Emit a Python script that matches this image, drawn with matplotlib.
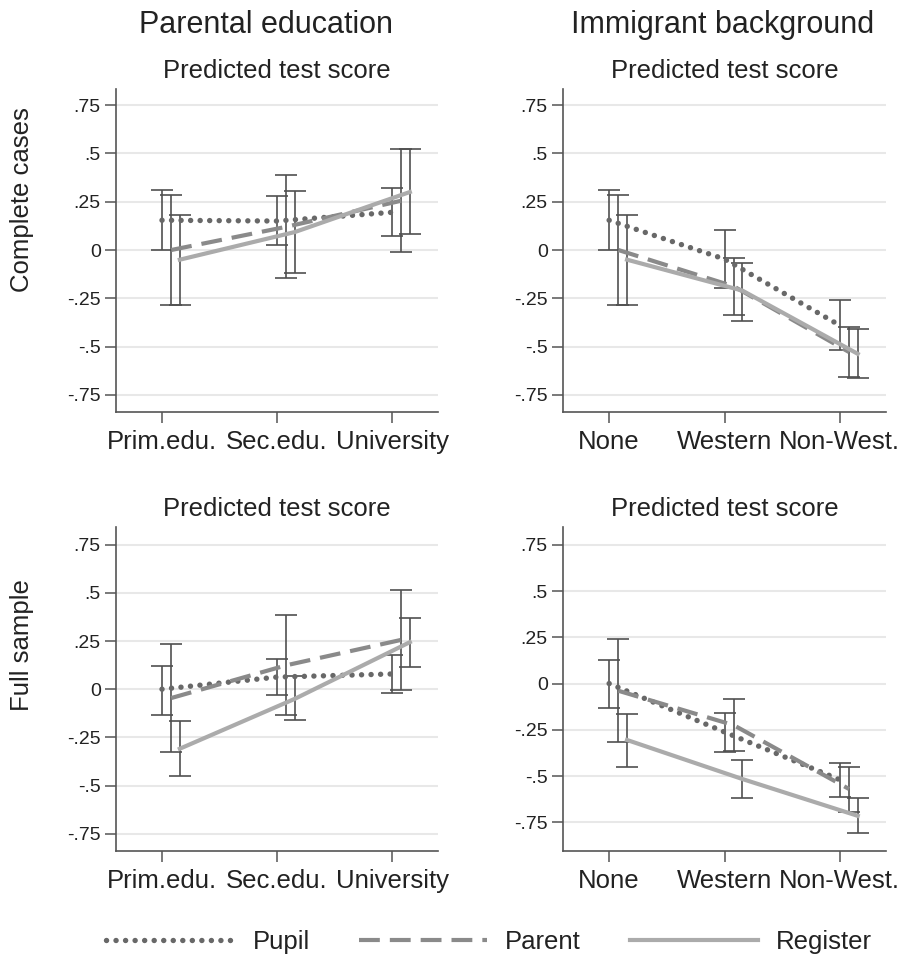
import matplotlib
matplotlib.use('Agg')
import matplotlib.pyplot as plt
import numpy as np

plt.rcParams['font.family'] = ['Liberation Sans', 'DejaVu Sans']

# Categories
edu_cats = ["Prim.edu.", "Sec.edu.", "University"]
imm_cats = ["None", "Western", "Non-West."]
series_names = ["Pupil", "Parent", "Register"]

# Complete cases, parental education (estimate, lower, upper)
cc_edu_pupil = [0.154, 0.15, 0.195]
cc_edu_pupil_lo = [0.0, 0.024, 0.074]
cc_edu_pupil_hi = [0.313, 0.279, 0.322]
cc_edu_parent = [0.0, 0.12, 0.255]
cc_edu_parent_lo = [-0.282, -0.147, -0.012]
cc_edu_parent_hi = [0.284, 0.386, 0.522]
cc_edu_register = [-0.05, 0.093, 0.30]
cc_edu_register_lo = [-0.282, -0.118, 0.081]
cc_edu_register_hi = [0.182, 0.304, 0.522]

# Complete cases, immigrant background
cc_imm_pupil = [0.154, -0.047, -0.39]
cc_imm_pupil_lo = [0.0, -0.199, -0.519]
cc_imm_pupil_hi = [0.313, 0.105, -0.261]
cc_imm_parent = [0.0, -0.188, -0.528]
cc_imm_parent_lo = [-0.282, -0.336, -0.656]
cc_imm_parent_hi = [0.284, -0.04, -0.40]
cc_imm_register = [-0.05, -0.21, -0.537]
cc_imm_register_lo = [-0.282, -0.365, -0.664]
cc_imm_register_hi = [0.182, -0.069, -0.41]

# Full sample, parental education
fs_edu_pupil = [0.0, 0.063, 0.079]
fs_edu_pupil_lo = [-0.136, -0.03, -0.02]
fs_edu_pupil_hi = [0.122, 0.155, 0.177]
fs_edu_parent = [-0.046, 0.124, 0.256]
fs_edu_parent_lo = [-0.325, -0.136, -0.005]
fs_edu_parent_hi = [0.233, 0.385, 0.517]
fs_edu_register = [-0.309, -0.05, 0.244]
fs_edu_register_lo = [-0.452, -0.16, 0.117]
fs_edu_register_hi = [-0.165, 0.071, 0.371]

# Full sample, immigrant background
fs_imm_pupil = [0.0, -0.262, -0.52]
fs_imm_pupil_lo = [-0.132, -0.368, -0.611]
fs_imm_pupil_hi = [0.126, -0.157, -0.431]
fs_imm_parent = [-0.039, -0.225, -0.57]
fs_imm_parent_lo = [-0.317, -0.364, -0.692]
fs_imm_parent_hi = [0.24, -0.086, -0.449]
fs_imm_register = [-0.305, -0.516, -0.715]
fs_imm_register_lo = [-0.449, -0.62, -0.809]
fs_imm_register_hi = [-0.162, -0.413, -0.62]

yticks = [0.75, 0.5, 0.25, 0, -0.25, -0.5, -0.75]
ytick_labels = [".75", ".5", ".25", "0", "-.25", "-.5", "-.75"]

W, H = 902, 956
fig = plt.figure(figsize=(W / 100, H / 100), dpi=100)


def px_axes(x0, y0, x1, y1):
    # pixel box -> figure fraction
    return fig.add_axes([x0 / W, 1 - y1 / H, (x1 - x0) / W, (y1 - y0) / H])


styles = [
    dict(color='#686868', lw=3.9, linestyle=(0, (0.01, 1.75)), dash_capstyle='round'),
    dict(color='#8a8a8a', lw=3.0, linestyle=(0, (5.0, 2.4))),
    dict(color='#ababab', lw=3.0, linestyle='-'),
]
offsets = [0.0, 0.08, 0.155]


def panel(ax, cats, est, lo, hi, ylim):
    x = np.arange(1, 4)
    for k in range(3):
        xs = x + offsets[k]
        e = np.array(est[k])
        yerr = [e - np.array(lo[k]), np.array(hi[k]) - e]
        ax.errorbar(xs, e, yerr=yerr, fmt='none', ecolor='#505050',
                    elinewidth=1.2, capsize=8, capthick=1.2, zorder=2)
    for k in range(3):
        ax.plot(x + offsets[k], est[k], zorder=3, label=series_names[k], **styles[k])
    ax.set_xlim(0.6, 3.4)
    ax.set_ylim(*ylim)
    ax.set_xticks(x)
    ax.set_xticklabels(cats, fontsize=18.5)
    ax.set_yticks(yticks)
    ax.set_yticklabels(ytick_labels, fontsize=14)
    ax.grid(axis='y', color='#e8e8e8', lw=1.5, zorder=0)
    ax.set_axisbelow(True)
    for s in ['top', 'right']:
        ax.spines[s].set_visible(False)
    for s in ['left', 'bottom']:
        ax.spines[s].set_color('#555555')
        ax.spines[s].set_linewidth(1.2)
    ax.tick_params(direction='out', length=8, width=1.1, color='#555555',
                   labelcolor='#222222')
    ax.tick_params(axis='x', pad=5)
    ax.tick_params(axis='y', pad=3)
    ax.set_title("Predicted test score", fontsize=18.5, color='#222222', pad=8)


ax1 = px_axes(116, 89, 438, 412)
panel(ax1, edu_cats,
      [cc_edu_pupil, cc_edu_parent, cc_edu_register],
      [cc_edu_pupil_lo, cc_edu_parent_lo, cc_edu_register_lo],
      [cc_edu_pupil_hi, cc_edu_parent_hi, cc_edu_register_hi], (-0.838, 0.833))
ax2 = px_axes(563, 89, 886, 412)
panel(ax2, imm_cats,
      [cc_imm_pupil, cc_imm_parent, cc_imm_register],
      [cc_imm_pupil_lo, cc_imm_parent_lo, cc_imm_register_lo],
      [cc_imm_pupil_hi, cc_imm_parent_hi, cc_imm_register_hi], (-0.838, 0.833))
ax3 = px_axes(116, 527, 438, 851)
panel(ax3, edu_cats,
      [fs_edu_pupil, fs_edu_parent, fs_edu_register],
      [fs_edu_pupil_lo, fs_edu_parent_lo, fs_edu_register_lo],
      [fs_edu_pupil_hi, fs_edu_parent_hi, fs_edu_register_hi], (-0.84, 0.842))
ax4 = px_axes(563, 527, 886, 851)
panel(ax4, imm_cats,
      [fs_imm_pupil, fs_imm_parent, fs_imm_register],
      [fs_imm_pupil_lo, fs_imm_parent_lo, fs_imm_register_lo],
      [fs_imm_pupil_hi, fs_imm_parent_hi, fs_imm_register_hi], (-0.905, 0.846))

# Column and row titles
fig.text(266 / W, 1 - 25 / H, "Parental education", fontsize=22, ha='center', va='center', color='#222222')
fig.text(723 / W, 1 - 25 / H, "Immigrant background", fontsize=22, ha='center', va='center', color='#222222')
fig.text(22 / W, 1 - 200 / H, "Complete cases", fontsize=18.5, rotation=90, ha='center', va='center', color='#222222')
fig.text(22 / W, 1 - 645 / H, "Full sample", fontsize=18.5, rotation=90, ha='center', va='center', color='#222222')

handles, labels = ax1.get_legend_handles_labels()
fig.legend(handles, labels, loc='center', bbox_to_anchor=(489 / W, 1 - 942 / H), ncol=3,
           frameon=False, fontsize=18.5, handlelength=5, handletextpad=0.7,
           columnspacing=1.9, labelcolor='#222222')

plt.savefig('out.png', dpi=100)
